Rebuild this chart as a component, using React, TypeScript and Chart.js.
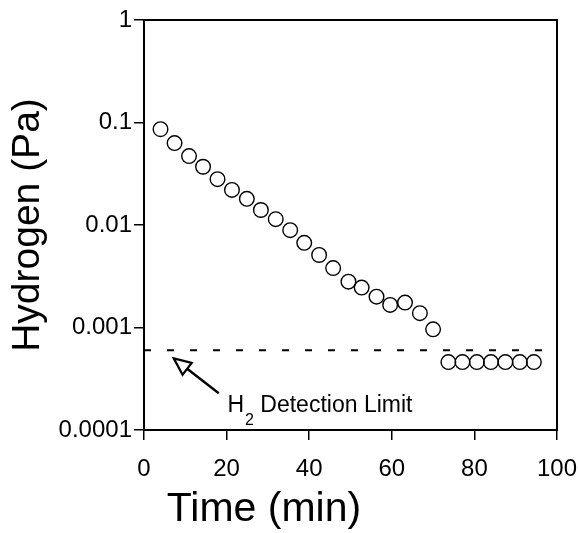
import React, { useEffect, useRef } from "react";
import { Chart, registerables } from "chart.js";

Chart.register(...registerables);

const times = [4.0, 7.4, 10.9, 14.3, 17.8, 21.3, 24.9, 28.3, 31.9, 35.4, 38.8, 42.4, 45.8, 49.5, 52.7, 56.3, 59.6, 63.2, 66.8, 70.0, 73.7, 77.1, 80.6, 84.0, 87.5, 91.0, 94.4];
const hydrogen = [0.086, 0.063, 0.047, 0.037, 0.028, 0.022, 0.018, 0.014, 0.0114, 0.0089, 0.0067, 0.0051, 0.0038, 0.0028, 0.00245, 0.0020, 0.00166, 0.00175, 0.00138, 0.00096, 0.00046, 0.00046, 0.00046, 0.00046, 0.00046, 0.00046, 0.00046];

const detectionLimit = 0.0006;
const detectionRange = [0, 97];

const xTicks = [0, 20, 40, 60, 80, 100];
const yTickValues = [0.0001, 0.001, 0.01, 0.1, 1];
const yTickLabels = ["0.0001", "0.001", "0.01", "0.1", "1"];

const xTitle = "Time (min)";
const yTitle = "Hydrogen (Pa)";
const noteMain = "H";
const noteSub = "2";
const noteRest = " Detection Limit";
// annotation anchors in data units
const arrowTip = { x: 7.2, y: 0.0005 };
const arrowTail = { x: 18.1, y: 0.000228 };
const noteAt = { x: 20.2, y: 0.000151 };

const FONT = "'Liberation Sans', Arial, Helvetica, sans-serif";

const framePlugin = {
  id: "frameAndText",
  afterDraw(chart: any) {
    const { ctx, chartArea, scales } = chart;
    const xs = scales.x;
    const ys = scales.y;
    ctx.save();
    // frame
    ctx.strokeStyle = "#000";
    ctx.lineWidth = 2;
    ctx.strokeRect(chartArea.left, chartArea.top, chartArea.right - chartArea.left, chartArea.bottom - chartArea.top);

    // arrow
    const tx = xs.getPixelForValue(arrowTip.x);
    const ty = ys.getPixelForValue(arrowTip.y);
    const sx = xs.getPixelForValue(arrowTail.x);
    const sy = ys.getPixelForValue(arrowTail.y);
    const ang = Math.atan2(ty - sy, tx - sx);
    const headLen = 17;
    const headHalf = 7.5;
    const bx = tx - headLen * Math.cos(ang);
    const by = ty - headLen * Math.sin(ang);
    const px = -Math.sin(ang);
    const py = Math.cos(ang);
    ctx.lineWidth = 2.4;
    ctx.beginPath();
    ctx.moveTo(sx, sy);
    ctx.lineTo(bx, by);
    ctx.stroke();
    ctx.lineWidth = 2.2;
    ctx.lineJoin = "miter";
    ctx.beginPath();
    ctx.moveTo(tx, ty);
    ctx.lineTo(bx + px * headHalf, by + py * headHalf);
    ctx.lineTo(bx - px * headHalf, by - py * headHalf);
    ctx.closePath();
    ctx.stroke();

    // note text
    const nx = xs.getPixelForValue(noteAt.x);
    const ny = ys.getPixelForValue(noteAt.y);
    ctx.fillStyle = "#000";
    ctx.textBaseline = "alphabetic";
    ctx.textAlign = "left";
    ctx.font = `23px ${FONT}`;
    ctx.fillText(noteMain, nx, ny);
    const w1 = ctx.measureText(noteMain).width;
    ctx.font = `16px ${FONT}`;
    ctx.fillText(noteSub, nx + w1 + 1, ny + 13);
    const w2 = ctx.measureText(noteSub).width;
    ctx.font = `23px ${FONT}`;
    ctx.fillText(noteRest, nx + w1 + w2 + 1, ny);

    // axis titles
    ctx.font = `41px ${FONT}`;
    ctx.textAlign = "center";
    ctx.textBaseline = "middle";
    ctx.fillText(xTitle, 264, 510);
    ctx.font = `39px ${FONT}`;
    ctx.translate(28, (chartArea.top + chartArea.bottom) / 2);
    ctx.rotate(-Math.PI / 2);
    ctx.fillText(yTitle, 0, 0);
    ctx.restore();
  },
};

export default function App() {
  const ref = useRef<HTMLCanvasElement>(null);
  useEffect(() => {
    if (!ref.current) return;
    const chart = new Chart(ref.current, {
      type: "scatter",
      data: {
        datasets: [
          {
            type: "scatter",
            label: "Hydrogen",
            data: times.map((t, i) => ({ x: t, y: hydrogen[i] })),
            pointRadius: 7.3,
            pointBorderWidth: 1.4,
            borderColor: "#000",
            backgroundColor: "rgba(0,0,0,0)",
            pointStyle: "circle",
          },
          {
            type: "line",
            label: "Detection limit",
            data: detectionRange.map((x) => ({ x, y: detectionLimit })),
            borderColor: "#000",
            borderWidth: 1.8,
            borderDash: [7, 16],
            pointRadius: 0,
            fill: false,
          } as any,
        ],
      },
      options: {
        responsive: false,
        animation: false,
        devicePixelRatio: 1,
        layout: { padding: { top: 20, right: 21, left: 0, bottom: 0 } },
        plugins: { legend: { display: false }, tooltip: { enabled: false }, title: { display: false } },
        scales: {
          x: {
            type: "linear",
            min: 0,
            max: 100,
            afterBuildTicks: (s: any) => {
              s.ticks = xTicks.map((v) => ({ value: v }));
            },
            afterFit: (s: any) => {
              s.height = 103;
              s.paddingLeft = 0;
              s.paddingRight = 0;
            },
            ticks: { color: "#000", font: { size: 24, family: FONT }, padding: 15, maxRotation: 0 },
            grid: { display: true, drawOnChartArea: false, drawTicks: true, tickLength: 10, color: "#000", lineWidth: 1.5 },
            border: { display: false },
          },
          y: {
            type: "logarithmic",
            min: 0.0001,
            max: 1,
            afterBuildTicks: (s: any) => {
              s.ticks = yTickValues.map((v) => ({ value: v }));
            },
            afterFit: (s: any) => {
              s.width = 144;
              s.paddingTop = 0;
              s.paddingBottom = 0;
            },
            ticks: {
              color: "#000",
              font: { size: 24, family: FONT },
              padding: 2,
              callback: (v: any) => {
                const i = yTickValues.findIndex((t) => Math.abs(Math.log10(t) - Math.log10(Number(v))) < 1e-6);
                return i >= 0 ? yTickLabels[i] : "";
              },
            },
            grid: { display: true, drawOnChartArea: false, drawTicks: true, tickLength: 10, color: "#000", lineWidth: 1.5 },
            border: { display: false },
          },
        },
      },
      plugins: [framePlugin],
    });
    return () => chart.destroy();
  }, []);
  return (
    <div style={{ position: "absolute", left: 0, top: 0, width: 578, height: 533, background: "#fff" }}>
      <canvas ref={ref} width={578} height={533} style={{ display: "block" }} />
    </div>
  );
}
